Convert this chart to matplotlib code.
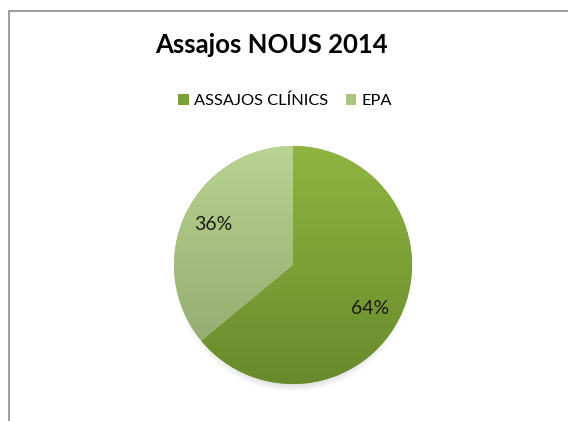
import numpy as np
import matplotlib
matplotlib.use('Agg')
from matplotlib import pyplot as plt
from matplotlib.patches import Rectangle, Patch, Ellipse
from matplotlib.colors import LinearSegmentedColormap

# data
labels = ['ASSAJOS CLÍNICS', 'EPA']
values = [64, 36]
top_colors = ['#8fb540', '#b9d391']
bottom_colors = ['#698a2c', '#8ea66a']
legend_colors = ['#7ba23a', '#a9c57f']

W, H = 568, 421
fig = plt.figure(figsize=(W/100, H/100), dpi=100)
ax = fig.add_axes([0, 0, 1, 1])
ax.set_xlim(0, W)
ax.set_ylim(0, H)
ax.set_aspect('equal')
ax.axis('off')

# chart frame
ax.add_patch(Rectangle((8.5, -20), 600, H - 11 + 20, fill=False,
                       edgecolor='#8c8c8c', linewidth=1.2))

cx, cy, r = 293, H - 265, 119

# soft shadow under pie
for i in range(6):
    ax.add_patch(Ellipse((cx, cy - 4 - i*0.5), 2*r - 20 + i*4, 2*r - 8 + i*2,
                         color='#000000', alpha=0.025, lw=0, zorder=1))

wedges, texts = ax.pie(values, center=(cx, cy), radius=r, startangle=90,
                       counterclock=False, colors=legend_colors,
                       wedgeprops=dict(linewidth=0, zorder=2))
ax.set_xlim(0, W)
ax.set_ylim(0, H)

for w, c0, c1 in zip(wedges, top_colors, bottom_colors):
    cmap = LinearSegmentedColormap.from_list('g', [c1, c0])
    grad = np.linspace(0, 1, 256).reshape(-1, 1)
    im = ax.imshow(grad, cmap=cmap, origin='lower', aspect='auto',
                   extent=(cx - r, cx + r, cy - r, cy + r), zorder=3)
    im.set_clip_path(w)

ax.text(213, H - 224, '36%', fontsize=14, ha='center', va='center',
        color='#1a1a1a', family='Lato', zorder=5)
ax.text(370, H - 309, '64%', fontsize=14, ha='center', va='center',
        color='#1a1a1a', family='Lato', zorder=5)

fig.text(271 / W, 1 - 45 / H, 'Assajos NOUS 2014', fontsize=18.5, fontweight='bold',
         family='Lato', ha='center', va='center')

handles = [Patch(facecolor=c, edgecolor='none') for c in legend_colors]
fig.legend(handles, labels, loc='center', bbox_to_anchor=(285 / W, 1 - 101 / H),
           ncol=2, frameon=False, prop={'family': 'Lato', 'size': 11.8},
           handlelength=0.65, handleheight=0.65, handletextpad=0.3, columnspacing=1.1)

fig.savefig('out.png', dpi=100)
